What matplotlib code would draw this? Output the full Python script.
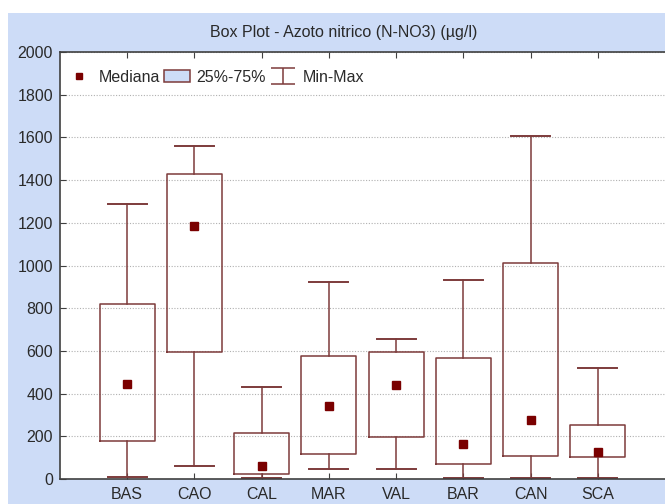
import matplotlib
matplotlib.use("Agg")
import matplotlib.pyplot as plt
from matplotlib.lines import Line2D
from matplotlib.patches import Patch, Rectangle

plt.rcParams['font.family'] = ['Liberation Sans', 'DejaVu Sans']

stations = ["BAS", "CAO", "CAL", "MAR", "VAL", "BAR", "CAN", "SCA"]
mins = [10, 60, 3, 45, 45, 3, 3, 3]
q1 = [180, 595, 25, 115, 195, 70, 110, 105]
medians = [445, 1185, 60, 340, 440, 165, 275, 125]
q3 = [820, 1430, 215, 575, 595, 565, 1010, 255]
maxs = [1290, 1560, 430, 925, 655, 930, 1605, 520]
yticks = [0, 200, 400, 600, 800, 1000, 1200, 1400, 1600, 1800, 2000]

BG = "#cddcf7"
EDGE = "#7d3b3b"
MED = "#7a0000"
TXT = "#2a2a2a"
FS = 11.5

fig = plt.figure(figsize=(6.65, 5.04), dpi=100, facecolor="white")
fig.patches.append(Rectangle((8 / 665, 0), 1, 1 - 13 / 504, transform=fig.transFigure,
                             facecolor=BG, edgecolor="none", zorder=-5))
ax = fig.add_axes([60 / 665, 25 / 504, 1 - 60 / 665, 427 / 504])
ax.set_facecolor("white")

stats = []
for i, name in enumerate(stations):
    stats.append(dict(label=name, whislo=mins[i], q1=q1[i], med=medians[i],
                      q3=q3[i], whishi=maxs[i], mean=medians[i]))

pos = list(range(1, len(stations) + 1))
ax.bxp(stats, positions=pos, widths=0.82, showfliers=False, showmeans=True,
       boxprops=dict(color=EDGE, linewidth=1.1),
       whiskerprops=dict(color=EDGE, linewidth=1.1),
       capprops=dict(color=EDGE, linewidth=1.4),
       capwidths=0.58,
       medianprops=dict(linewidth=0),
       meanprops=dict(marker="s", markersize=5.5, markerfacecolor=MED,
                      markeredgecolor=MED))

ax.set_xlim(0, 9)
ax.set_ylim(0, 2000)
ax.set_xticks(pos)
ax.set_xticklabels(stations)
ax.set_yticks(yticks)
ax.yaxis.grid(True, linestyle=(0, (1, 1.5)), color="#b0b0b0", linewidth=0.8)
ax.set_axisbelow(True)
ax.tick_params(axis="both", direction="in", labelsize=FS, length=4, color="#404040",
               labelcolor=TXT, top=True, right=False)
ax.tick_params(axis="x", pad=6)
ax.tick_params(axis="y", pad=5)
for side in ["top", "left", "bottom"]:
    ax.spines[side].set_color("#404040")
    ax.spines[side].set_linewidth(1.2)
ax.spines["right"].set_visible(False)

fig.text(344 / 665, 1 - 33 / 504, "Box Plot - Azoto nitrico (N-NO3) (µg/l)",
         ha="center", va="center", fontsize=FS, color=TXT)

# legend entries: median marker, interquartile box, min-max whisker
eb = ax.errorbar([-5], [-5], yerr=[1], fmt="none", ecolor=EDGE, capsize=8.5,
                 elinewidth=1.1, capthick=1.1)
handles = [
    Line2D([], [], marker="s", markersize=5, linestyle="none",
           markerfacecolor=MED, markeredgecolor=MED),
    Patch(facecolor=BG, edgecolor=EDGE, linewidth=1.1),
    eb,
]
leg = ax.legend(handles, ["Mediana", "25%-75%", "Min-Max"], loc="upper left",
                ncol=3, frameon=False, fontsize=FS, handlelength=1.6,
                handletextpad=0.4, columnspacing=0.3,
                bbox_to_anchor=(-0.008, 0.985), borderaxespad=0.3)
for t in leg.get_texts():
    t.set_color(TXT)

fig.savefig("out.png", dpi=100, facecolor="white")
